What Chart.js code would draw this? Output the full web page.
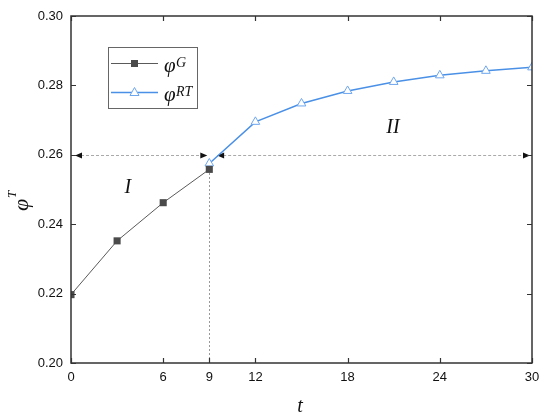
<!DOCTYPE html>
<html>
<head>
<meta charset="utf-8">
<script src="https://cdn.jsdelivr.net/npm/chart.js@4/dist/chart.umd.min.js"></script>
<style>
html,body{margin:0;padding:0;background:#fff;}
#wrap{width:550px;height:420px;}
</style>
</head>
<body>
<div id="wrap"><canvas id="c" width="550" height="420"></canvas></div>
<script>
// ---- data ----
const xTicks = [0, 6, 9, 12, 18, 24, 30];
const xTopTicks = [0, 6, 12, 18, 24, 30];
const yTicks = [0.20, 0.22, 0.24, 0.26, 0.28, 0.30];
const tG = [0, 3, 6, 9];
const phiG = [0.2197, 0.2352, 0.2462, 0.2558];
const tRT = [9, 12, 15, 18, 21, 24, 27, 30];
const phiRT = [0.2575, 0.2695, 0.2748, 0.2784, 0.2810, 0.2829, 0.2842, 0.2852];
const boundaryT = 9;
const boundaryPhi = 0.26;
const regionI = {label: 'I', t: 3.7, phi: 0.2504, from: 0, to: 9};
const regionII = {label: 'II', t: 20.95, phi: 0.2677, from: 9.25, to: 30};

const gColor = '#5a5a5a', gMarker = '#4a4a4a';
const rtColor = '#4a90e6', rtMarker = '#6ea6ee';

function arrowHead(ctx, x, y, dir) {
  ctx.beginPath();
  ctx.moveTo(x, y);
  ctx.lineTo(x - dir * 7, y - 3);
  ctx.lineTo(x - dir * 7, y + 3);
  ctx.closePath();
  ctx.fill();
}

const deco = {
  id: 'deco',
  beforeDatasetsDraw(chart) {
    const ctx = chart.ctx, xs = chart.scales.x, ys = chart.scales.y;
    ctx.save();
    ctx.strokeStyle = '#999';
    ctx.lineWidth = 1;
    ctx.setLineDash([2, 2]);
    const bx = Math.round(xs.getPixelForValue(boundaryT)) + 0.5;
    ctx.beginPath();
    ctx.moveTo(bx, ys.getPixelForValue(0.20));
    ctx.lineTo(bx, ys.getPixelForValue(phiG[phiG.length - 1]));
    ctx.stroke();
    const by = Math.round(ys.getPixelForValue(boundaryPhi)) + 0.5;
    ctx.fillStyle = '#111';
    [regionI, regionII].forEach(r => {
      const x1 = xs.getPixelForValue(r.from) + 4;
      const x2 = xs.getPixelForValue(r.to) - 2;
      ctx.strokeStyle = '#aaa';
      ctx.setLineDash([3, 2]);
      ctx.beginPath();
      ctx.moveTo(x1 + 6, by);
      ctx.lineTo(x2 - 6, by);
      ctx.stroke();
      ctx.setLineDash([]);
      arrowHead(ctx, x1, by, -1);
      arrowHead(ctx, x2, by, 1);
      ctx.font = 'italic 20px "Liberation Serif"';
      ctx.textAlign = 'center';
      ctx.textBaseline = 'middle';
      ctx.fillText(r.label, xs.getPixelForValue(r.t), ys.getPixelForValue(r.phi));
    });
    ctx.restore();
  },
  afterDraw(chart) {
    const ctx = chart.ctx, xs = chart.scales.x, ys = chart.scales.y;
    const a = chart.chartArea;
    ctx.save();
    ctx.strokeStyle = '#333';
    ctx.lineWidth = 1.5;
    ctx.strokeRect(a.left, a.top, a.right - a.left, a.bottom - a.top);
    ctx.lineWidth = 1.2;
    ctx.beginPath();
    xTicks.forEach(v => {
      const x = Math.round(xs.getPixelForValue(v)) + 0.5;
      ctx.moveTo(x, a.bottom); ctx.lineTo(x, a.bottom - 5);
    });
    xTopTicks.forEach(v => {
      const x = Math.round(xs.getPixelForValue(v)) + 0.5;
      ctx.moveTo(x, a.top); ctx.lineTo(x, a.top + 5);
    });
    yTicks.forEach(v => {
      const y = Math.round(ys.getPixelForValue(v)) + 0.5;
      ctx.moveTo(a.left, y); ctx.lineTo(a.left + 5, y);
      ctx.moveTo(a.right, y); ctx.lineTo(a.right - 5, y);
    });
    ctx.stroke();
    const lx = 108, ly = 47, lw = 89, lh = 61;
    ctx.fillStyle = '#fff';
    ctx.fillRect(lx, ly, lw, lh);
    ctx.strokeStyle = '#666';
    ctx.lineWidth = 1;
    ctx.strokeRect(lx + 0.5, ly + 0.5, lw, lh);
    const rows = [
      {y: 63.5, color: gColor, marker: 'sq', sup: 'G'},
      {y: 92.5, color: rtColor, marker: 'tri', sup: 'RT'}
    ];
    rows.forEach(r => {
      ctx.strokeStyle = r.color;
      ctx.lineWidth = r.marker === 'sq' ? 1 : 1.5;
      ctx.beginPath(); ctx.moveTo(111, r.y); ctx.lineTo(158, r.y); ctx.stroke();
      if (r.marker === 'sq') {
        ctx.fillStyle = gMarker;
        ctx.fillRect(131, r.y - 3.5, 7, 7);
      } else {
        ctx.fillStyle = '#fff';
        ctx.strokeStyle = rtMarker;
        ctx.lineWidth = 1;
        ctx.beginPath();
        ctx.moveTo(134.5, r.y - 5); ctx.lineTo(139, r.y + 3); ctx.lineTo(130, r.y + 3); ctx.closePath();
        ctx.fill(); ctx.stroke();
      }
      ctx.fillStyle = '#111';
      ctx.textAlign = 'left';
      ctx.textBaseline = 'alphabetic';
      ctx.font = 'italic 21px "Liberation Serif"';
      ctx.fillText('φ', 164, r.y + 8);
      ctx.font = 'italic 14px "Liberation Serif"';
      ctx.fillText(r.sup, 176, r.y + 3);
    });
    ctx.fillStyle = '#111';
    ctx.font = 'italic 20px "Liberation Serif"';
    ctx.textAlign = 'center';
    ctx.textBaseline = 'alphabetic';
    ctx.fillText('t', 300, 412);
    ctx.translate(28, 205);
    ctx.rotate(-Math.PI / 2);
    ctx.textAlign = 'left';
    ctx.font = 'italic 22px "Liberation Serif"';
    ctx.fillText('φ', -6, 0);
    ctx.font = 'italic 13px "Liberation Serif"';
    ctx.fillText('T', 7, -12);
    ctx.restore();
  }
};

new Chart(document.getElementById('c'), {
  type: 'scatter',
  data: {
    datasets: [
      {
        label: 'φG',
        data: tG.map((t, i) => ({x: t, y: phiG[i]})),
        showLine: true,
        borderColor: gColor,
        borderWidth: 1,
        pointStyle: 'rect',
        pointRadius: 5,
        pointBackgroundColor: gMarker,
        pointBorderColor: gMarker,
        pointBorderWidth: 0,
        tension: 0
      },
      {
        label: 'φRT',
        data: tRT.map((t, i) => ({x: t, y: phiRT[i]})),
        showLine: true,
        borderColor: rtColor,
        borderWidth: 1.5,
        pointStyle: 'triangle',
        pointRadius: 5,
        pointBackgroundColor: '#fff',
        pointBorderColor: rtMarker,
        pointBorderWidth: 1,
        tension: 0
      }
    ]
  },
  options: {
    responsive: false,
    devicePixelRatio: 1,
    animation: false,
    layout: {padding: {left: 0, right: 18, top: 16, bottom: 0}},
    plugins: {legend: {display: false}, tooltip: {enabled: false}},
    scales: {
      x: {
        type: 'linear', min: 0, max: 30,
        afterBuildTicks: s => { s.ticks = xTicks.map(v => ({value: v})); },
        afterFit: s => { s.height = 57; },
        grid: {display: false, drawTicks: false},
        border: {display: false},
        ticks: {color: '#111', font: {family: 'Liberation Sans', size: 13}, padding: 7, maxRotation: 0,
                callback: v => String(v)}
      },
      y: {
        type: 'linear', min: 0.20, max: 0.30,
        afterBuildTicks: s => { s.ticks = yTicks.map(v => ({value: v})); },
        afterFit: s => { s.width = 71; },
        grid: {display: false, drawTicks: false},
        border: {display: false},
        ticks: {color: '#111', font: {family: 'Liberation Sans', size: 13}, padding: 8,
                callback: v => Number(v).toFixed(2)}
      }
    }
  },
  plugins: [deco]
});
</script>
</body>
</html>
